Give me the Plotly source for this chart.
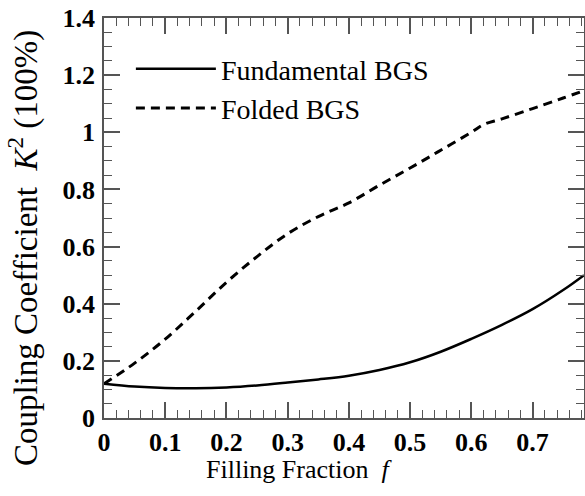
import plotly.graph_objects as go

# Filling fraction f
f_fund = [0.0, 0.05, 0.10, 0.15, 0.20, 0.25, 0.30, 0.35, 0.40, 0.45, 0.50,
          0.55, 0.60, 0.65, 0.70, 0.75, 0.784]
k2_fund = [0.120, 0.110, 0.105, 0.104, 0.107, 0.114, 0.124, 0.135, 0.148,
           0.168, 0.195, 0.232, 0.277, 0.326, 0.381, 0.448, 0.500]

f_fold = [0.0, 0.05, 0.10, 0.15, 0.20, 0.25, 0.30, 0.35, 0.40, 0.45, 0.50,
          0.55, 0.60, 0.62, 0.65, 0.70, 0.75, 0.784]
k2_fold = [0.120, 0.192, 0.276, 0.374, 0.475, 0.565, 0.645, 0.705, 0.753,
           0.815, 0.875, 0.937, 1.000, 1.027, 1.047, 1.083, 1.120, 1.146]

x_ticks = [0, 0.1, 0.2, 0.3, 0.4, 0.5, 0.6, 0.7]
x_ticklabels = ["0", "0.1", "0.2", "0.3", "0.4", "0.5", "0.6", "0.7"]
y_ticks = [0, 0.2, 0.4, 0.6, 0.8, 1.0, 1.2, 1.4]
y_ticklabels = ["0", "0.2", "0.4", "0.6", "0.8", "1", "1.2", "1.4"]

x_title = "Filling Fraction  <i>f</i>"
y_title = "Coupling Coefficient  <i>K</i><sup>2</sup> (100%)"

SERIF = "Liberation Serif"

fig = go.Figure()
fig.add_trace(go.Scatter(x=f_fund, y=k2_fund, mode="lines", name="Fundamental BGS",
                         line=dict(color="black", width=2.5, shape="spline")))
fig.add_trace(go.Scatter(x=f_fold, y=k2_fold, mode="lines", name="Folded BGS",
                         line=dict(color="black", width=3, dash="9px,6px", shape="spline")))

axis_common = dict(
    showline=True, linecolor="#555555", linewidth=1.5, mirror="ticks",
    ticks="inside", ticklen=16, tickwidth=1.5, tickcolor="#555555",
    showgrid=False, zeroline=False, automargin=False,
    ticklabeloverflow="allow",
    tickfont=dict(family=SERIF, size=26, color="black", weight="bold"),
)

fig.update_xaxes(
    range=[0, 0.784], tickvals=x_ticks, ticktext=x_ticklabels,
    minor=dict(dtick=0.02, ticks="inside", ticklen=8, tickwidth=1.2, tickcolor="#555555"),
    ticklabelstandoff=0,
    **axis_common,
)
fig.update_yaxes(
    range=[0, 1.4], tickvals=y_ticks, ticktext=y_ticklabels,
    minor=dict(dtick=0.05, ticks="inside", ticklen=8, tickwidth=1.2, tickcolor="#555555"),
    ticklabelstandoff=2,
    **axis_common,
)

# axis titles placed as annotations (offset from plot centre as in the reference)
fig.add_annotation(text=x_title, xref="paper", yref="paper", x=0.408, y=-0.13,
                   xanchor="center", yanchor="middle", showarrow=False,
                   font=dict(family=SERIF, size=26, color="black"))
fig.add_annotation(text=y_title, xref="paper", yref="paper", x=-0.1667, y=0.425,
                   xanchor="center", yanchor="middle", showarrow=False, textangle=-90,
                   font=dict(family=SERIF, size=33, color="black"))

fig.update_layout(
    width=585, height=496,
    margin=dict(l=104, r=1, t=18, b=78),
    paper_bgcolor="white", plot_bgcolor="white",
    font=dict(family=SERIF, color="black"),
    showlegend=True,
    legend=dict(x=0.056, y=0.935, xanchor="left", yanchor="top",
                font=dict(family=SERIF, size=28, color="black"),
                bgcolor="rgba(0,0,0,0)", itemwidth=80, tracegroupgap=0),
)

# remove the default 8px page margin so the figure fills the window exactly
fig.write_html("out.html",
               config={"displayModeBar": False},
               post_script="document.body.style.margin='0px';document.body.style.overflow='hidden';")
